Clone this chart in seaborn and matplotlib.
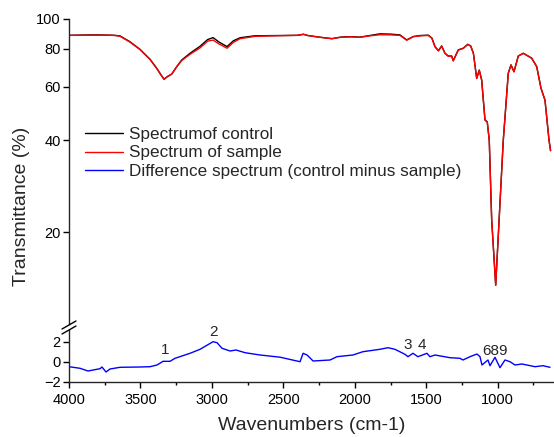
import matplotlib
matplotlib.use("Agg")
import matplotlib.pyplot as plt
import matplotlib.ticker as mticker
import seaborn as sns

# ---------------- data ----------------
wn_top = [4000, 3900, 3800, 3720, 3680, 3643, 3573, 3503, 3433, 3386, 3351, 3335,
          3310, 3281, 3246, 3211, 3153, 3083, 3030, 2992, 2950, 2894, 2850, 2803,
          2700, 2600, 2500, 2400, 2360, 2330, 2250, 2160, 2100, 2033, 1964, 1900,
          1824, 1750, 1684, 1637, 1590, 1540, 1485, 1460, 1439, 1415, 1392, 1369,
          1346, 1322, 1311, 1276, 1241, 1210, 1189, 1170, 1147, 1129, 1112, 1089,
          1073, 1059, 1042, 1014, 990, 961, 926, 907, 886, 856, 821, 762, 727, 697,
          681, 669, 641, 630]
control = [88.4, 88.6, 88.7, 88.5, 88.4, 88.0, 84.2, 79.5, 73.8, 68.9, 65.0, 63.5,
           64.8, 66.0, 69.8, 73.4, 77.2, 81.4, 85.6, 86.9, 84.0, 81.2, 84.8, 86.8,
           88.1, 88.2, 88.3, 88.4, 89.1, 88.3, 87.2, 86.2, 87.2, 87.5, 87.2, 88.2,
           89.4, 89.2, 88.7, 85.4, 87.6, 88.3, 88.5, 86.5, 81.2, 78.7, 81.6, 77.2,
           75.6, 75.6, 73.0, 79.2, 80.2, 82.6, 81.6, 77.2, 63.9, 68.0, 63.1, 46.7,
           46.0, 40.0, 21.9, 13.4, 22.0, 40.0, 66.4, 70.7, 67.2, 75.6, 77.2, 74.4,
           69.8, 59.3, 56.3, 54.2, 40.1, 37.0]
sample = [88.4, 88.4, 88.5, 88.5, 88.3, 87.8, 84.0, 79.4, 73.7, 68.8, 65.0, 63.4,
          64.8, 66.0, 69.7, 73.1, 76.6, 80.4, 84.6, 85.3, 82.8, 80.2, 83.8, 86.2,
          87.7, 88.0, 88.2, 88.4, 89.1, 88.3, 87.2, 86.2, 87.1, 87.4, 87.1, 88.0,
          88.8, 88.7, 88.4, 85.2, 87.5, 88.1, 88.3, 86.4, 81.1, 78.6, 81.5, 77.1,
          75.5, 75.5, 72.9, 79.1, 80.1, 82.5, 81.5, 77.1, 63.8, 67.9, 63.0, 46.6,
          45.9, 40.0, 21.9, 13.4, 22.0, 40.0, 66.4, 70.7, 67.1, 75.6, 77.2, 74.4,
          69.8, 59.3, 56.3, 54.2, 40.1, 37.0]

wn_diff = [4000, 3923, 3867, 3783, 3769, 3741, 3713, 3643, 3503, 3433, 3384, 3342,
           3293, 3258, 3153, 3083, 2992, 2964, 2929, 2873, 2831, 2768, 2663, 2523,
           2383, 2362, 2334, 2292, 2173, 2125, 2013, 1943, 1824, 1768, 1719, 1649,
           1628, 1593, 1558, 1495, 1474, 1439, 1334, 1264, 1243, 1194, 1145, 1124,
           1110, 1068, 1054, 1019, 984, 949, 914, 879, 830, 739, 683, 634]
diff = [-0.50, -0.66, -0.93, -0.70, -0.53, -1.03, -0.73, -0.56, -0.53, -0.50, -0.33, 0.04,
        0.04, 0.34, 0.84, 1.24, 2.00, 1.90, 1.34, 1.07, 1.17, 0.90, 0.67, 0.45,
        0.00, 0.84, 0.67, 0.07, 0.17, 0.50, 0.67, 1.00, 1.24, 1.40, 1.24, 0.74,
        0.50, 0.84, 0.50, 0.84, 0.50, 0.67, 0.40, 0.34, 0.17, 0.50, 0.77, 0.50,
        -0.33, 0.17, -0.40, 0.44, -0.60, 0.17, 0.00, -0.33, -0.23, -0.50, -0.40, -0.56]

labels = ["Spectrumof control", "Spectrum of sample",
          "Difference spectrum (control minus sample)"]
peak_labels = ["1", "2", "3", "4", "689"]
peak_x = [3328, 2992, 1628, 1530, 1019]
peak_y = [1.17, 2.97, 1.67, 1.67, 1.07]

top_ticks = [20, 40, 60, 80, 100]
bot_ticks = [-2, 0, 2]
x_ticks = [4000, 3500, 3000, 2500, 2000, 1500, 1000]

# ---------------- style ----------------
sns.set_theme(style="ticks")
plt.rcParams["font.family"] = ["Liberation Sans", "DejaVu Sans"]
plt.rcParams["axes.linewidth"] = 1.0

W, H = 554, 437
fig = plt.figure(figsize=(W / 100, H / 100), dpi=100)

left = 69 / W
width = 1 - left
ax_top = fig.add_axes([left, 1 - 324 / H, width, (324 - 19) / H])
ax_bot = fig.add_axes([left, 1 - 381.7 / H, width, (381.7 - 330) / H])

# top panel
sns.lineplot(x=wn_top, y=control, ax=ax_top, color="black", lw=1.0,
             estimator=None, label=labels[0])
sns.lineplot(x=wn_top, y=sample, ax=ax_top, color="#ff0000", lw=1.0,
             estimator=None, label=labels[1])
ax_top.set_yscale("log")
ax_top.set_ylim(10, 100)
ax_top.set_xlim(4000, 606)
ax_top.yaxis.set_major_locator(mticker.FixedLocator(top_ticks))
ax_top.yaxis.set_major_formatter(mticker.FixedFormatter([str(t) for t in top_ticks]))
ax_top.yaxis.set_minor_locator(mticker.NullLocator())
for s in ["top", "right", "bottom"]:
    ax_top.spines[s].set_visible(False)
ax_top.tick_params(axis="x", bottom=False, labelbottom=False)
ax_top.tick_params(axis="y", direction="out", length=4, width=1.0,
                   labelsize=10.5, pad=2, colors="black")
ax_top.set_xlabel("")
ax_top.set_ylabel("")
ax_top.patch.set_alpha(0)

# bottom panel
sns.lineplot(x=wn_diff, y=diff, ax=ax_bot, color="#0000ff", lw=1.0,
             estimator=None, label=labels[2])
ax_bot.set_xlim(4000, 606)
ax_bot.set_ylim(-2, 3.17)
ax_bot.set_yticks(bot_ticks)
ax_bot.set_xticks(x_ticks)
ax_bot.xaxis.set_minor_locator(mticker.MultipleLocator(250))
for s in ["top", "right"]:
    ax_bot.spines[s].set_visible(False)
ax_bot.tick_params(axis="both", which="major", direction="out", length=4,
                   width=1.0, labelsize=10.5, pad=2, colors="black")
ax_bot.tick_params(axis="x", which="minor", direction="out", length=2.5, width=1.0,
                   colors="black")
ax_bot.tick_params(axis="x", pad=4)
ax_bot.set_xlabel("")
ax_bot.set_ylabel("")
ax_bot.patch.set_alpha(0)
for lab, xx, yy in zip(peak_labels, peak_x, peak_y):
    ax_bot.text(xx, yy, lab, ha="center", va="center", fontsize=11, clip_on=False)

# legend
h1, l1 = ax_top.get_legend_handles_labels()
h2, l2 = ax_bot.get_legend_handles_labels()
ax_bot.get_legend().remove()
ax_top.legend(h1 + h2, l1 + l2, loc="center left",
              bbox_to_anchor=(85 / W, 1 - 153 / H), bbox_transform=fig.transFigure,
              frameon=False, fontsize=12.3, handlelength=2.25, handletextpad=0.35,
              labelspacing=0.22, borderpad=0, borderaxespad=0)

# axis break marks
def slash(yc):
    fig.add_artist(plt.Line2D([62 / W, 76 / W], [1 - (yc + 4) / H, 1 - (yc - 4) / H],
                              color="black", lw=1.0, transform=fig.transFigure))
slash(325)
slash(330)

# axis labels
fig.text(22 / W, 1 - 206 / H, "Transmittance (%)", rotation=90, ha="center",
         va="center", fontsize=14)
fig.text(312 / W, 1 - 426 / H, "Wavenumbers (cm-1)", ha="center", va="center",
         fontsize=14)

fig.savefig("out.png", dpi=100)
